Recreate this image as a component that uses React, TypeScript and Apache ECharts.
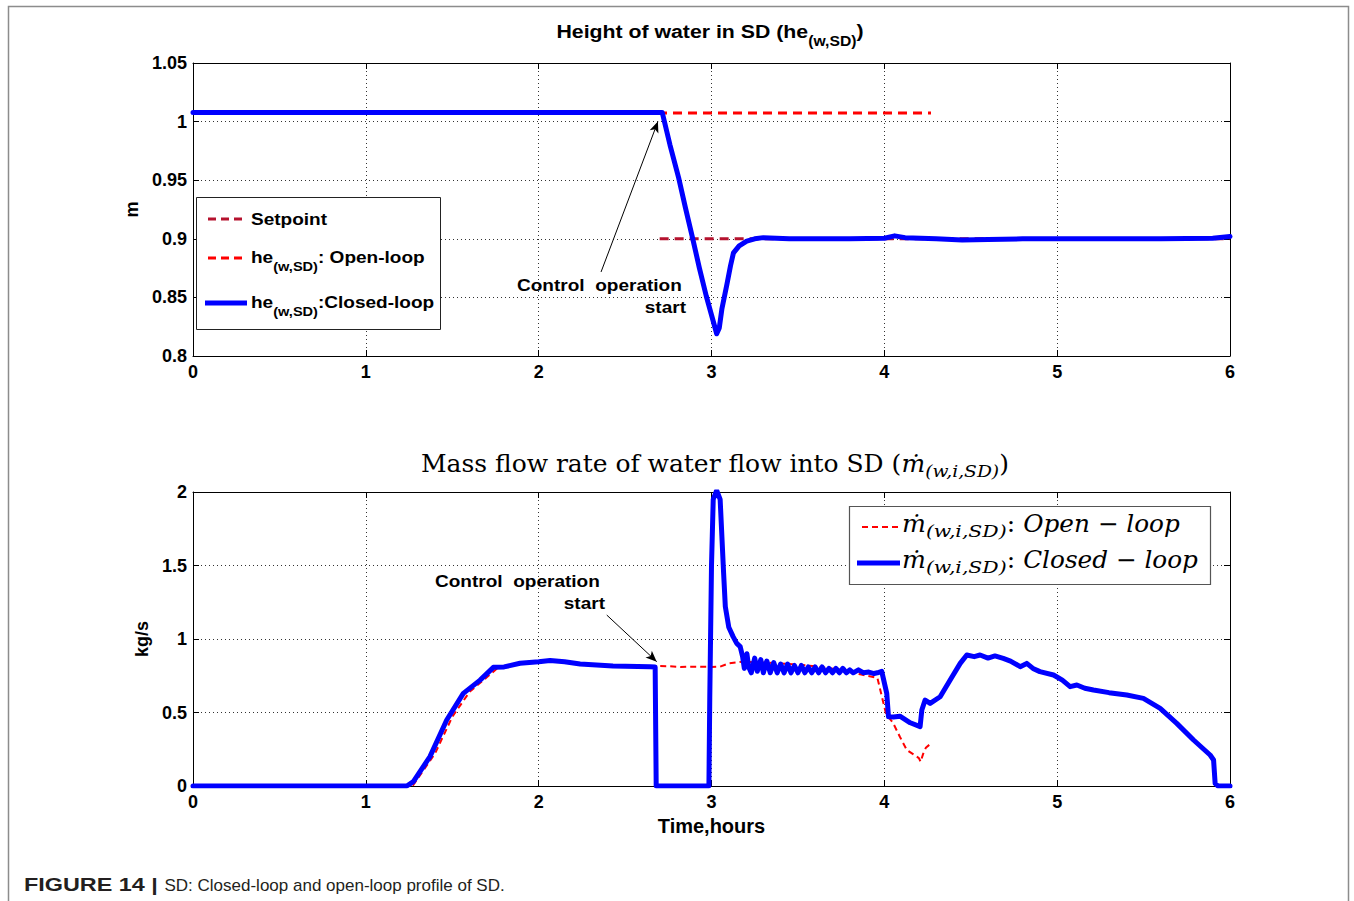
import React, { useEffect, useRef } from "react";
import * as echarts from "echarts";

// ---------- data ----------
type Pt = [number, number];

const hourTicks = [0, 1, 2, 3, 4, 5, 6];

// Height of water in the SD (m)
const heightSetpoint: Pt[] = [
  [2.7, 0.9],
  [6, 0.9],
];
const heightOpenLoop: Pt[] = [
  [0, 1.0073],
  [4.27, 1.0073],
];
const heightClosedLoop: Pt[] = [
  [0, 1.0078], [2.715, 1.0078], [2.76, 0.98], [2.81, 0.952], [2.85, 0.926],
  [2.89, 0.901], [2.93, 0.875], [2.97, 0.851], [3.0, 0.835], [3.03, 0.819],
  [3.045, 0.824], [3.06, 0.84], [3.089, 0.861], [3.11, 0.877], [3.127, 0.888],
  [3.16, 0.894], [3.204, 0.898], [3.25, 0.9], [3.3, 0.901], [3.45, 0.9],
  [3.6, 0.9], [3.8, 0.9], [4.0, 0.9005], [4.06, 0.9025], [4.12, 0.901],
  [4.3, 0.9], [4.45, 0.899], [4.6, 0.8995], [4.8, 0.9], [5.0, 0.9],
  [5.3, 0.9], [5.6, 0.9], [5.9, 0.9005], [6, 0.902],
];

// Mass flow rate of water into the SD (kg/s)
const flowOpenLoop: Pt[] = [
  [0, 0], [1.27, 0], [1.3, 0.05], [1.4, 0.22], [1.5, 0.47], [1.6, 0.64],
  [1.7, 0.74], [1.76, 0.8], [1.9, 0.832], [2.07, 0.85], [2.25, 0.83],
  [2.45, 0.815], [2.68, 0.816], [2.75, 0.815], [2.82, 0.81], [2.9, 0.812],
  [3.0, 0.81], [3.05, 0.812], [3.1, 0.834], [3.18, 0.846], [3.3, 0.84],
  [3.45, 0.83], [3.6, 0.815], [3.75, 0.79], [3.86, 0.76], [3.96, 0.735],
  [4.01, 0.49], [4.05, 0.43], [4.09, 0.335], [4.13, 0.245], [4.2, 0.19],
  [4.21, 0.165], [4.225, 0.22], [4.24, 0.26], [4.27, 0.29],
];
const flowClosedLoop: Pt[] = [
  [0, 0], [1.237, 0], [1.275, 0.03], [1.371, 0.2], [1.468, 0.449],
  [1.564, 0.63], [1.661, 0.72], [1.738, 0.807], [1.8, 0.81], [1.892, 0.835],
  [2.0, 0.845], [2.066, 0.853], [2.15, 0.845], [2.24, 0.83], [2.43, 0.816],
  [2.645, 0.811], [2.674, 0.81], [2.68, 0], [2.985, 0], [2.99, 0.6],
  [3.0, 1.5], [3.01, 1.95], [3.03, 2.01], [3.05, 1.95], [3.06, 1.7],
  [3.07, 1.45], [3.08, 1.22], [3.1, 1.08], [3.125, 1.016], [3.146, 0.97],
  [3.166, 0.948], [3.18, 0.88], [3.19, 0.8], [3.205, 0.9], [3.215, 0.81],
  [3.23, 0.77], [3.25, 0.87], [3.265, 0.78], [3.285, 0.86], [3.3, 0.77],
  [3.32, 0.85], [3.34, 0.77], [3.36, 0.84], [3.38, 0.77], [3.4, 0.83],
  [3.42, 0.77], [3.44, 0.83], [3.46, 0.77], [3.48, 0.82], [3.5, 0.77],
  [3.52, 0.82], [3.54, 0.77], [3.56, 0.81], [3.58, 0.77], [3.6, 0.81],
  [3.62, 0.77], [3.64, 0.81], [3.66, 0.77], [3.68, 0.8], [3.7, 0.77],
  [3.72, 0.8], [3.74, 0.77], [3.76, 0.8], [3.78, 0.77], [3.8, 0.79],
  [3.82, 0.77], [3.85, 0.79], [3.88, 0.77], [3.91, 0.775], [3.94, 0.765],
  [3.96, 0.77], [3.985, 0.78], [4.014, 0.63], [4.024, 0.471], [4.053, 0.47],
  [4.09, 0.475], [4.15, 0.43], [4.207, 0.404], [4.217, 0.517], [4.236, 0.585],
  [4.265, 0.562], [4.323, 0.607], [4.38, 0.72], [4.439, 0.834], [4.477, 0.891],
  [4.52, 0.88], [4.554, 0.891], [4.6, 0.87], [4.64, 0.885], [4.688, 0.868],
  [4.73, 0.85], [4.786, 0.812], [4.824, 0.834], [4.86, 0.8], [4.9, 0.778],
  [4.979, 0.755], [5.03, 0.72], [5.075, 0.676], [5.114, 0.687], [5.16, 0.665],
  [5.21, 0.653], [5.3, 0.635], [5.403, 0.619], [5.499, 0.596], [5.596, 0.528],
  [5.692, 0.426], [5.789, 0.313], [5.885, 0.211], [5.905, 0.177], [5.914, 0.018],
  [5.93, 0], [6, 0],
];

// arrows pointing at the start of control operation: [tail, head]
const heightArrow: [Pt, Pt] = [[2.361, 0.8717], [2.69, 1.0]];
const flowArrow: [Pt, Pt] = [[2.394, 1.163], [2.683, 0.846]];

// ---------- styling ----------
const SANS = '"Liberation Sans", Arial, Helvetica, sans-serif';
const SERIF = '"DejaVu Serif", "Liberation Serif", serif';
const BLUE = "#0000ff";
const RED = "#ff0000";
const DARKRED = "#b5122e";
// the figure's lettering is set wide; stretch text horizontally by this much
const WIDE = 1.12;

const measureCtx = document.createElement("canvas").getContext("2d")!;
function textWidth(text: string, font: string) {
  measureCtx.font = font;
  return measureCtx.measureText(text).width;
}

type Run = {
  text: string;
  size: number;
  family: string;
  weight?: string;
  italic?: boolean;
  dy?: number;
  sx?: number;
  fill?: string;
};

function fontOf(r: Run) {
  return `${r.italic ? "italic" : "normal"} ${r.weight || "normal"} ${r.size}px ${r.family}`;
}

function runsWidth(parts: Run[]) {
  return parts.reduce((s, p) => s + textWidth(p.text, fontOf(p)) * (p.sx ?? WIDE), 0);
}

// lay out a sequence of text runs (with sub/superscript offsets) from a left x
function runs(x: number, y: number, parts: Run[], z = 50) {
  const out: any[] = [];
  let cx = x;
  for (const p of parts) {
    const sx = p.sx ?? WIDE;
    out.push({
      type: "text",
      x: cx,
      y: y + (p.dy || 0),
      scaleX: sx,
      z,
      silent: true,
      style: {
        text: p.text,
        fontSize: p.size,
        fontFamily: p.family,
        fontWeight: p.weight || "normal",
        fontStyle: p.italic ? "italic" : "normal",
        fill: p.fill || "#000",
        align: "left",
        verticalAlign: "middle",
      },
    });
    cx += textWidth(p.text, fontOf(p)) * sx;
  }
  return out;
}

function centeredRuns(cx: number, y: number, parts: Run[], z = 50) {
  return runs(cx - runsWidth(parts) / 2, y, parts, z);
}

function plainText(text: string, x: number, y: number, align: string, size = 17) {
  return {
    type: "text",
    x,
    y,
    z: 50,
    scaleX: WIDE,
    silent: true,
    style: {
      text,
      fontSize: size,
      fontFamily: SANS,
      fontWeight: "bold",
      fill: "#000",
      align,
      verticalAlign: "middle",
    },
  };
}

function legendLine(x1: number, x2: number, y: number, color: string, width: number, dash?: number[]) {
  return {
    type: "line",
    z: 50,
    silent: true,
    shape: { x1, y1: y, x2, y2: y },
    style: { stroke: color, lineWidth: width, lineDash: dash || null },
  };
}

const tickFont = { fontFamily: SANS, fontWeight: "bold", fontSize: 18, color: "#000" };

function xAxes(gridIndex: number, name?: string) {
  const line = { show: true, onZero: false, lineStyle: { color: "#000", width: 1 } };
  return [
    {
      gridIndex,
      type: "value",
      min: 0,
      max: 6,
      interval: 1,
      position: "bottom",
      name,
      nameLocation: "middle",
      nameGap: 30,
      nameTextStyle: { fontFamily: SANS, fontWeight: "bold", fontSize: 20, color: "#000" },
      axisLine: line,
      axisTick: { show: true, inside: true, length: 6, lineStyle: { color: "#000" } },
      axisLabel: {
        ...tickFont,
        margin: 7,
        formatter: (v: number) => (hourTicks.includes(v) ? String(v) : ""),
      },
      splitLine: { show: true, lineStyle: { color: "#333", width: 1, type: [1, 3] } },
    },
    {
      gridIndex,
      type: "value",
      min: 0,
      max: 6,
      interval: 1,
      position: "top",
      axisLine: line,
      axisTick: { show: true, inside: true, length: 6, lineStyle: { color: "#000" } },
      axisLabel: { show: false },
      splitLine: { show: false },
    },
  ];
}

function yAxes(gridIndex: number, min: number, max: number, interval: number, name: string, nameGap: number) {
  const line = { show: true, onZero: false, lineStyle: { color: "#000", width: 1 } };
  return [
    {
      gridIndex,
      type: "value",
      min,
      max,
      interval,
      position: "left",
      name,
      nameLocation: "middle",
      nameGap,
      nameTextStyle: { fontFamily: SANS, fontWeight: "bold", fontSize: 18, color: "#000" },
      axisLine: line,
      axisTick: { show: true, inside: true, length: 6, lineStyle: { color: "#000" } },
      axisLabel: { ...tickFont, margin: 6 },
      splitLine: { show: true, lineStyle: { color: "#333", width: 1, type: [1, 3] } },
    },
    {
      gridIndex,
      type: "value",
      min,
      max,
      interval,
      position: "right",
      axisLine: line,
      axisTick: { show: true, inside: true, length: 6, lineStyle: { color: "#000" } },
      axisLabel: { show: false },
      splitLine: { show: false },
    },
  ];
}

function arrowMarkLine(arrow: [Pt, Pt]) {
  return {
    silent: true,
    symbol: ["none", "arrow"],
    symbolSize: [7, 11],
    lineStyle: { color: "#000", width: 1, type: "solid" },
    label: { show: false },
    emphasis: { disabled: true },
    data: [[{ coord: arrow[0] }, { coord: arrow[1] }]],
  };
}

function buildGraphics() {
  const g: any[] = [];

  // outer frame
  g.push({
    type: "rect",
    z: 1,
    silent: true,
    shape: { x: 8.5, y: 6.5, width: 1340, height: 960 },
    style: { fill: "none", stroke: "#8c8c8c", lineWidth: 1.5 },
  });

  // top title
  g.push(
    ...centeredRuns(710, 31, [
      { text: "Height of water in SD (he", size: 19, family: SANS, weight: "bold" },
      { text: "(w,SD)", size: 14, family: SANS, weight: "bold", dy: 10 },
      { text: ")", size: 19, family: SANS, weight: "bold", dy: -1 },
    ])
  );

  // bottom title
  g.push(
    ...centeredRuns(715, 464, [
      { text: "Mass flow rate of water flow into SD (", size: 24, family: SERIF, sx: 1.04 },
      { text: "ṁ", size: 24, family: SERIF, italic: true, sx: 1.04 },
      { text: "(w,i,SD)", size: 17, family: SERIF, italic: true, dy: 7, sx: 1.1 },
      { text: ")", size: 24, family: SERIF, sx: 1.04 },
    ])
  );

  // top legend
  g.push({
    type: "rect",
    z: 45,
    silent: true,
    shape: { x: 196.5, y: 197.5, width: 244, height: 132 },
    style: { fill: "#fff", stroke: "#222", lineWidth: 1 },
  });
  g.push(legendLine(208, 247, 219, DARKRED, 3, [8, 5]));
  g.push(legendLine(208, 247, 258, RED, 3, [8, 5]));
  g.push(legendLine(205, 247, 303, BLUE, 5));
  g.push(...runs(251, 219, [{ text: "Setpoint", size: 17, family: SANS, weight: "bold" }]));
  g.push(
    ...runs(251, 257, [
      { text: "he", size: 17, family: SANS, weight: "bold" },
      { text: "(w,SD)", size: 13, family: SANS, weight: "bold", dy: 10 },
      { text: ": Open-loop", size: 17, family: SANS, weight: "bold" },
    ])
  );
  g.push(
    ...runs(251, 302, [
      { text: "he", size: 17, family: SANS, weight: "bold" },
      { text: "(w,SD)", size: 13, family: SANS, weight: "bold", dy: 10 },
      { text: ":Closed-loop", size: 17, family: SANS, weight: "bold" },
    ])
  );

  // bottom legend
  g.push({
    type: "rect",
    z: 45,
    silent: true,
    shape: { x: 849.5, y: 506.5, width: 361, height: 78 },
    style: { fill: "#fff", stroke: "#555", lineWidth: 1.2 },
  });
  g.push(legendLine(862, 900, 527, RED, 2, [6, 4]));
  g.push(legendLine(857, 900, 563, BLUE, 5));
  const legendMath = (label: string): Run[] => [
    { text: "ṁ", size: 24, family: SERIF, italic: true, sx: 1.05 },
    { text: "(w,i,SD)", size: 17, family: SERIF, italic: true, dy: 7, sx: 1.2 },
    { text: ": ", size: 24, family: SERIF, sx: 1.05 },
    { text: label, size: 24, family: SERIF, italic: true, sx: 1.03 },
  ];
  g.push(...runs(902, 524, legendMath("Open − loop")));
  g.push(...runs(902, 560, legendMath("Closed − loop")));

  // annotations
  g.push(plainText("Control  operation", 517, 285, "left"));
  g.push(plainText("start", 686, 307, "right"));
  g.push(plainText("Control  operation", 435, 581, "left"));
  g.push(plainText("start", 605, 603, "right"));

  // caption
  g.push(
    ...runs(24, 885, [
      { text: "FIGURE 14 | ", size: 18, family: SANS, weight: "bold", sx: 1.3, fill: "#231f20" },
      { text: "SD: Closed-loop and open-loop profile of SD.", size: 17, family: SANS, sx: 1.0, fill: "#231f20" },
    ])
  );

  return g;
}

export default function App() {
  const ref = useRef<HTMLDivElement>(null);

  useEffect(() => {
    if (!ref.current) return;
    const chart = echarts.init(ref.current, null, { renderer: "svg" });

    const option: any = {
      animation: false,
      backgroundColor: "#fff",
      grid: [
        { left: 193, top: 63, width: 1037, height: 293 },
        { left: 193, top: 492, width: 1037, height: 294 },
      ],
      xAxis: [...xAxes(0), ...xAxes(1, "Time,hours")],
      yAxis: [...yAxes(0, 0.8, 1.05, 0.05, "m", 48), ...yAxes(1, 0, 2, 0.5, "kg/s", 40)],
      series: [
        {
          name: "Setpoint",
          type: "line",
          xAxisIndex: 0,
          yAxisIndex: 0,
          data: heightSetpoint,
          showSymbol: false,
          lineStyle: { color: DARKRED, width: 3, type: [9, 6] },
          markLine: arrowMarkLine(heightArrow),
        },
        {
          name: "he(w,SD): Open-loop",
          type: "line",
          xAxisIndex: 0,
          yAxisIndex: 0,
          data: heightOpenLoop,
          showSymbol: false,
          lineStyle: { color: RED, width: 3, type: [9, 6] },
        },
        {
          name: "he(w,SD):Closed-loop",
          type: "line",
          xAxisIndex: 0,
          yAxisIndex: 0,
          data: heightClosedLoop,
          showSymbol: false,
          lineStyle: { color: BLUE, width: 5, join: "round", cap: "round" },
        },
        {
          name: "m(w,i,SD): Open-loop",
          type: "line",
          xAxisIndex: 2,
          yAxisIndex: 2,
          data: flowOpenLoop,
          showSymbol: false,
          lineStyle: { color: RED, width: 2, type: [6, 4] },
          markLine: arrowMarkLine(flowArrow),
        },
        {
          name: "m(w,i,SD): Closed-loop",
          type: "line",
          xAxisIndex: 2,
          yAxisIndex: 2,
          data: flowClosedLoop,
          showSymbol: false,
          z: 3,
          lineStyle: { color: BLUE, width: 5, join: "round", cap: "round" },
        },
      ],
      graphic: buildGraphics(),
    };

    chart.setOption(option);
    return () => chart.dispose();
  }, []);

  return (
    <div
      ref={ref}
      style={{ position: "absolute", left: 0, top: 0, width: 1354, height: 901, background: "#fff" }}
    />
  );
}
